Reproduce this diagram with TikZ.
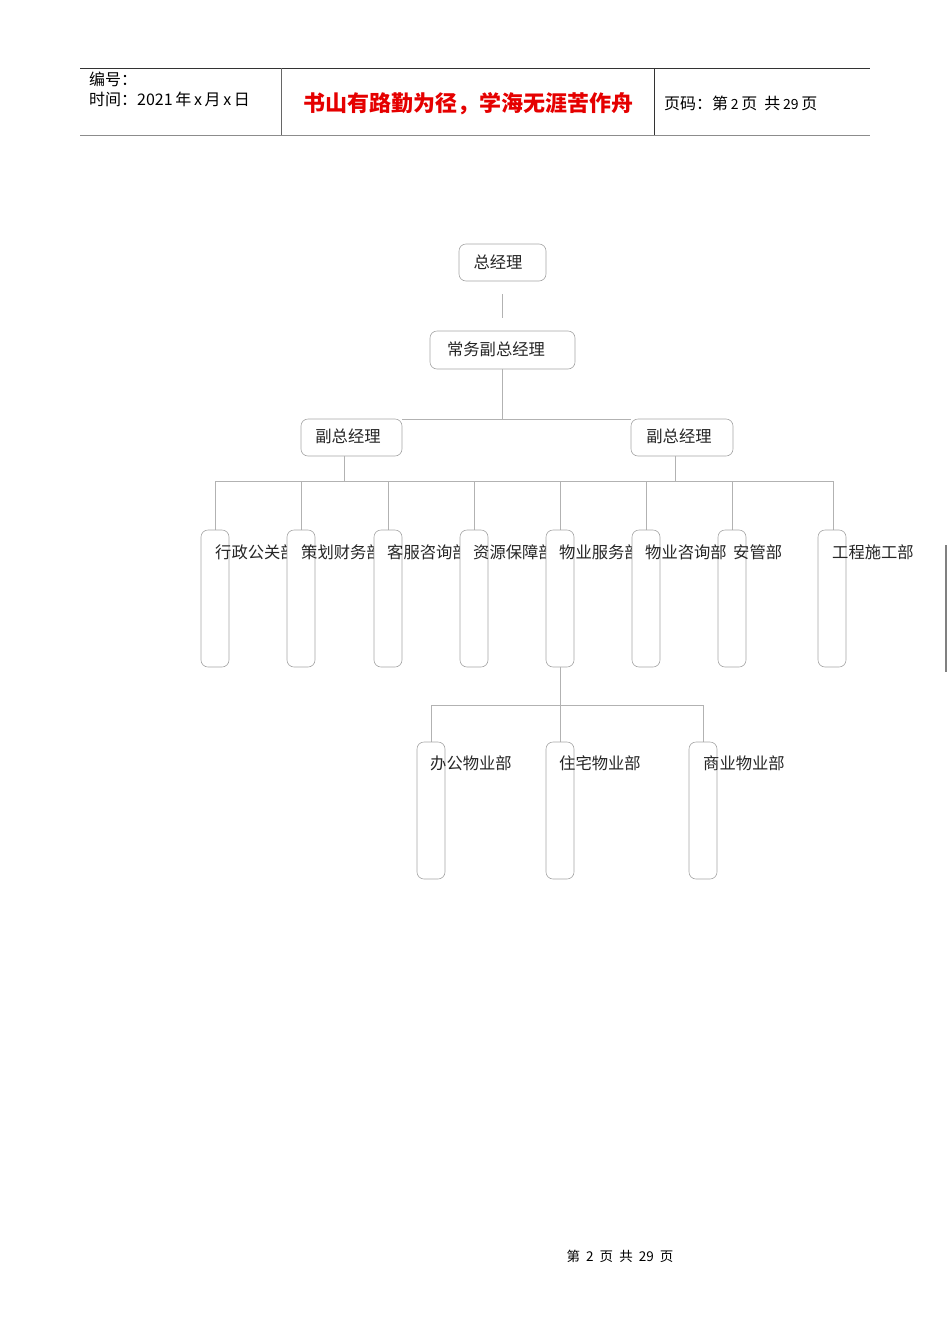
\documentclass[tikz,border=0pt]{standalone}
\usepackage{fontspec}
\setmainfont{Noto Sans CJK SC}
\newfontfamily\cjk{Noto Sans CJK SC}
\begin{document}
\begin{tikzpicture}[x=1pt,y=-1pt,
  box/.style={draw=black!35, rounded corners=7pt, line width=0.6pt, fill=white, inner sep=0pt},
  topbox/.style={box, minimum height=37pt},
  dept/.style={box, minimum width=28pt, minimum height=137pt},
  lbl/.style={anchor=west, inner sep=0pt, font=\cjk\fontsize{16.3}{18}\selectfont, text=black!85},
  conn/.style={draw=black!30, line width=0.6pt},
  hdr/.style={anchor=west, inner sep=0pt, font=\cjk\fontsize{16}{18}\selectfont}]
\useasboundingbox (0,0) rectangle (950,1344);
% header table
\draw[black!80, line width=0.7pt] (80,68) -- (870,68);
\draw[black!45, line width=1.6pt] (80,135.5) -- (870,135.5);
\draw[black!60, line width=0.7pt] (281,68) -- (281,135);
\draw[black!80, line width=0.7pt] (654.5,68) -- (654.5,135);
\node[hdr] (h1) at (89,79) {编号：};
\node[hdr] (h2) at (89,99) {时间：2021\,年\,x\,月\,x\,日};
\node[anchor=center, inner sep=0pt, text=red!90!black, font=\cjk\bfseries\fontsize{22}{24}\selectfont] (title) at (468,104) {书山有路勤为径，学海无涯苦作舟};
\node[hdr] (h3) at (664,103) {页码：第\,{\fontsize{14}{14}\selectfont 2}\,页\ \ 共\,{\fontsize{14}{14}\selectfont 29}\,页};
% coordinates for junctions
\coordinate (j1) at (502,419);
\coordinate (b1) at (344,481);
\coordinate (b2) at (675,481);
\coordinate (busL) at (215,481);
\coordinate (busR) at (833,481);
\coordinate (gmc) at (502.5,262.5);
\coordinate (egmc) at (502.5,350);
\coordinate (vp1c) at (351.5,437.5);
\coordinate (vp2c) at (682,437.5);
\foreach \n/\x in {1/215,2/301,3/388,4/474,5/560,6/646,7/732,8/832}{
  \coordinate (dc\n) at (\x,598.5);}
\foreach \n/\x in {1/431,2/560,3/703}{
  \coordinate (sc\n) at (\x,810.5);}
% connectors (drawn beneath boxes)
\draw[conn] (502,294) -- (502,318);
\draw[conn] (502,369) -- (j1);
\draw[conn] (402,419) -- (631,419);
\draw[conn] (344,456) -- (b1);
\draw[conn] (675,456) -- (b2);
\draw[conn] (busL) -- (busR);
\foreach \x in {215,301,388,474,560,646,732,833}{
  \draw[conn] (\x,481) -- (\x,530);}
\draw[conn] (560,667) -- (560,742);
\draw[conn] (431,705) -- (703,705);
\draw[conn] (431,705) -- (431,742);
\draw[conn] (703,705) -- (703,742);
% top boxes
\node[topbox, minimum width=87pt] (gm) at (gmc) {};
\node[lbl, anchor=center] (gmt) at (498,262) {总经理};
\node[topbox, minimum width=145pt, minimum height=38pt] (egm) at (egmc) {};
\node[lbl, anchor=center] (egmt) at (496,349) {常务副总经理};
\node[topbox, minimum width=101pt] (vp1) at (vp1c) {};
\node[lbl, anchor=center] (vp1t) at (348,436) {副总经理};
\node[topbox, minimum width=102pt] (vp2) at (vp2c) {};
\node[lbl, anchor=center] (vp2t) at (679,436) {副总经理};
% departments
\node[dept] (d1) at (dc1) {};
\node[lbl] (t1) at (215,552) {行政公关部};
\node[dept] (d2) at (dc2) {};
\node[lbl] (t2) at (301,552) {策划财务部};
\node[dept] (d3) at (dc3) {};
\node[lbl] (t3) at (387,552) {客服咨询部};
\node[dept] (d4) at (dc4) {};
\node[lbl] (t4) at (473,552) {资源保障部};
\node[dept] (d5) at (dc5) {};
\node[lbl] (t5) at (559,552) {物业服务部};
\node[dept] (d7) at (dc7) {};
\node[dept] (d6) at (dc6) {};
\node[lbl] (t6) at (645,552) {物业咨询部};
\node[lbl] (t7) at (733,552) {安管部};
\node[dept] (d8) at (dc8) {};
\node[lbl] (t8) at (832,552) {工程施工部};
% sub-departments
\node[dept] (s1) at (sc1) {};
\node[lbl] (u1) at (430,763) {办公物业部};
\node[dept] (s2) at (sc2) {};
\node[lbl] (u2) at (559,763) {住宅物业部};
\node[dept] (s3) at (sc3) {};
\node[lbl] (u3) at (703,763) {商业物业部};
% right edge mark
\draw[black!50, line width=1.4pt] (946,545) -- (946,672);
% footer
\node[inner sep=0pt, font=\cjk\fontsize{13.5}{15}\selectfont] (foot) at (620,1256) {第\ \ 2\ \ 页\ \ 共\ \ 29\ \ 页};
\end{tikzpicture}
\end{document}
